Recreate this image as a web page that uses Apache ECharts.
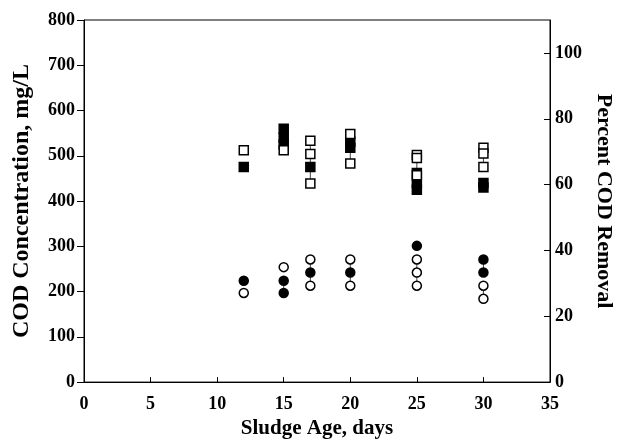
<!DOCTYPE html>
<html>
<head>
<meta charset="utf-8">
<script src="https://cdn.jsdelivr.net/npm/echarts@6/dist/echarts.min.js"></script>
<style>
  html, body { margin: 0; padding: 0; background: #fff; }
  #main { width: 624px; height: 444px; }
</style>
</head>
<body>
<div id="main"></div>
<script>
var myChart = echarts.init(document.getElementById('main'));

// sludge age (days) and COD readings, one [x, y] pair per marker
var filledSquares = [
  [12, 475], [15, 560], [15, 540], [15, 525], [17, 475],
  [20, 531], [20, 518], [25, 462], [25, 440], [25, 425],
  [30, 440], [30, 430]
];
var openSquares = [
  [12, 512], [15, 512], [17, 533], [17, 504], [17, 439],
  [20, 548], [20, 483], [25, 502], [25, 495], [25, 457],
  [30, 518], [30, 505], [30, 475]
];
var filledCircles = [
  [12, 224], [15, 224], [15, 197], [17, 242], [20, 242],
  [25, 301], [30, 271], [30, 242]
];
var openCircles = [
  [12, 197], [15, 254], [17, 271], [17, 213], [20, 271],
  [20, 213], [25, 271], [25, 242], [25, 213], [30, 213],
  [30, 184]
];

var leftTicks = [0, 800, 100];
var rightTicks = [0, 110, 20];
var xTicks = [0, 35, 5];

// vertical connector from lowest to highest point of one group at each x
function connectors(points) {
  var groups = {};
  points.forEach(function (p) {
    (groups[p[0]] = groups[p[0]] || []).push(p[1]);
  });
  var out = [];
  Object.keys(groups).forEach(function (k) {
    var ys = groups[k];
    if (ys.length < 2) return;
    out.push([+k, Math.min.apply(null, ys)]);
    out.push([+k, Math.max.apply(null, ys)]);
    out.push([+k, '-']);
  });
  return out;
}

var font = 'Liberation Serif';
var labelStyle = { fontFamily: font, fontWeight: 'bold', fontSize: 18, color: '#000' };
function nameStyle(size) {
  return { fontFamily: font, fontWeight: 'bold', fontSize: size, color: '#000' };
}
var lineStyle = { color: '#000', width: 1 };

function marker(name, symbol, filled, size, data) {
  return {
    name: name,
    type: 'scatter',
    symbol: symbol,
    symbolSize: size,
    z: 3,
    itemStyle: {
      color: filled ? '#000' : '#fff',
      borderColor: '#000',
      borderWidth: 1.5,
      opacity: 1
    },
    data: data
  };
}

function connector(points) {
  return {
    type: 'line',
    symbol: 'none',
    z: 2,
    silent: true,
    connectNulls: false,
    lineStyle: { color: '#444', width: 1 },
    data: connectors(points)
  };
}

option = {
  animation: false,
  backgroundColor: '#fff',
  grid: {
    left: 84, right: 74, top: 20, bottom: 61,
    show: true, borderColor: '#000', borderWidth: 1
  },
  xAxis: {
    type: 'value',
    min: xTicks[0], max: xTicks[1], interval: xTicks[2],
    name: 'Sludge Age, days',
    nameLocation: 'middle',
    nameGap: 35,
    nameTextStyle: nameStyle(21),
    axisLine: { lineStyle: lineStyle },
    axisTick: { inside: true, length: 5, lineStyle: lineStyle },
    axisLabel: Object.assign({ margin: 13 }, labelStyle),
    splitLine: { show: false }
  },
  yAxis: [
    {
      type: 'value',
      min: leftTicks[0], max: leftTicks[1], interval: leftTicks[2],
      name: 'COD Concentration, mg/L',
      nameLocation: 'middle',
      nameGap: 50,
      nameTextStyle: nameStyle(24),
      axisLine: { show: true, lineStyle: lineStyle },
      axisTick: { show: true, length: 7, lineStyle: lineStyle },
      axisLabel: Object.assign({ margin: 9 }, labelStyle),
      splitLine: { show: false }
    },
    {
      type: 'value',
      position: 'right',
      min: rightTicks[0], max: rightTicks[1], interval: rightTicks[2],
      name: 'Percent COD Removal',
      nameLocation: 'middle',
      nameGap: 42,
      nameRotate: -90,
      nameTextStyle: nameStyle(22),
      axisLine: { show: true, lineStyle: lineStyle },
      axisTick: { show: true, inside: true, length: 6, lineStyle: lineStyle },
      axisLabel: Object.assign({ margin: 5, showMaxLabel: false }, labelStyle),
      splitLine: { show: false }
    }
  ],
  series: [
    connector(filledSquares),
    connector(openSquares),
    connector(filledCircles),
    connector(openCircles),
    marker('Filled squares', 'rect', true, 9, filledSquares),
    marker('Open squares', 'rect', false, 9, openSquares),
    marker('Filled circles', 'circle', true, 9, filledCircles),
    marker('Open circles', 'circle', false, 9, openCircles)
  ]
};

myChart.setOption(option);
</script>
</body>
</html>
